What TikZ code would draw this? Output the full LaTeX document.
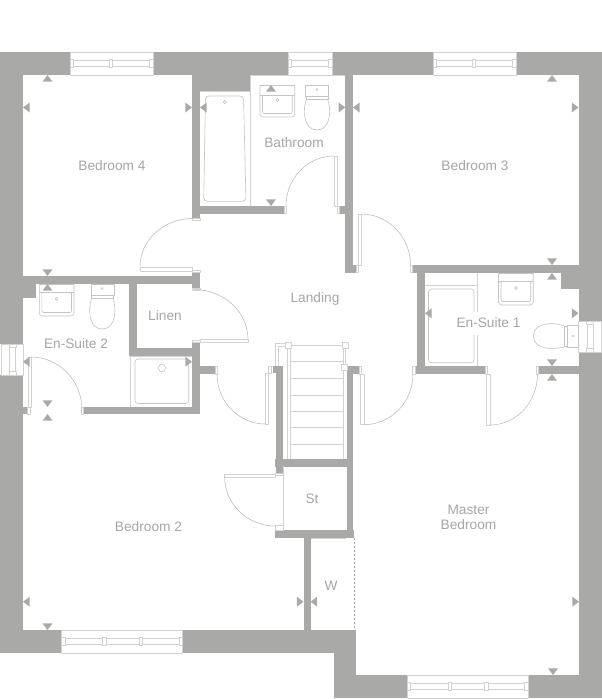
\documentclass[tikz,border=0pt]{standalone}
\usepackage{fontspec}
\setmainfont{Liberation Sans}
\definecolor{wallgray}{HTML}{A9A9A8}
\definecolor{framegray}{HTML}{D2D2D2}
\definecolor{fitgray}{HTML}{C4C4C4}
\definecolor{textgray}{HTML}{A6A6A6}
\begin{document}
\begin{tikzpicture}[x=1pt,y=-1pt,line join=round]
		\tikzset{wall/.style={fill=wallgray,draw=none},
			frame/.style={draw=framegray,fill=white,line width=.8pt},
			fitting/.style={draw=fitgray,line width=.6pt},
			swing/.style={draw=wallgray!85,line width=.5pt},
			room/.style={font=\fontsize{13.7}{15}\selectfont,text=textgray,align=center,inner sep=0pt}}
		\useasboundingbox (0,0) rectangle (602,699);
		\fill[white] (0,0) rectangle (602,699);
		% walls
		\foreach \xa/\ya/\xb/\yb in {0/52/70/75,153/52/288/75,332/52/433/75,516/52/602/75,
			0/52/23/344,0/375/23/653,578.5/52/602/321,578.5/352/602/698,
			0/630/61.5/653,182.7/630/356/653,334/630/356/698,334/675/407/698,528/675/602/698,
			192/75/250/91,192/75/200/218,200/206/284/213.7,
			345.3/75/353/272.7,339/206/345.3/213.7,345.3/265/356/272.7,
			412/265/578.5/273,417/265/425/374,415.3/366/485/374,538.5/366/578.5/374,561/273/578.5/289,
			23/276/200/284,192/272/200/288,23/284/36/298,
			129/284/136.5/355.7,129/348/200/355.7,192/342/200/414,
			200/366/215/374,83/407/200/414,23/407/27/414,
			273/366/283/373,275.7/366/283/473,275/459/353.3/466.7,346.7/366/353.3/538,346.7/366/359/374,
			275/530/354/538,303.5/538/310.5/630}
		\fill[wall] (\xa,\ya) rectangle (\xb,\yb);
		% jambs
		\foreach \xa/\ya/\xb/\yb in {192.5/218/200/220.5,192.5/270/200/272,192.5/288/200/290,192.5/340/200/342,
			284/206/286.5/213.7,337/206/339/213.7,356/265/358/272.7,410/265/412/272.7,
			359/366/361/374,412.7/366/415.3/374,485/366/487/374,536.5/366/538.5/374,
			215/366/217/374,81/407/83/414,27/407/30/414,268.5/366/271/373,
			275.5/473/283/475,275.5/525/283/530}
		\draw[frame,line width=.5pt] (\xa,\ya) rectangle (\xb,\yb);
		% windows along the long walls
		\foreach \xa/\xb/\ya in {70/153/52,288/332/52,433/516/52,61.5/182.7/630,407/528/675}{
			\draw[frame] (\xa,\ya+.4) rectangle (\xb,\ya+23);
			\draw[frame,line width=.5pt] (\xa,\ya+8.5) rectangle (\xb,\ya+14.5);
			\draw[frame,line width=.5pt] (\xa,\ya+7.5) rectangle (\xa+3.5,\ya+15);
			\draw[frame,line width=.5pt] (\xb-3.5,\ya+7.5) rectangle (\xb,\ya+15);
		}
		\foreach \x/\y in {109/52,433+39/52,102.5/630,139/630,448/675,484.5/675}
		\draw[frame,line width=.5pt] (\x,\y+7.5) rectangle (\x+3.5,\y+15);
		% windows in the side walls
		\foreach \xa/\xb/\ya/\yb in {1/23/344/375,578.5/601.5/321/352}{
			\draw[frame] (\xa,\ya) rectangle (\xb,\yb);
			\draw[frame,line width=.5pt] (\xa+8.5,\ya) rectangle (\xa+14.5,\yb);
			\draw[frame,line width=.5pt] (\xa+8,\ya) rectangle (\xa+15,\ya+3.5);
			\draw[frame,line width=.5pt] (\xa+8,\yb-3.5) rectangle (\xa+15,\yb);
		}
		% door leaves and swings
		\foreach \xa/\ya/\xb/\yb in {140/267/192.5/271,334/156/337/206,358/214/361/265,
			200/339.3/248/342,28/357/31.5/407,265/373/268.5/424,
			360.7/374/364/424.7,486.7/374/490/425,224.7/474/275.5/477}
		\draw[frame,line width=.5pt] (\xa,\ya) rectangle (\xb,\yb);
		\draw[swing] (192.5,218.5) arc[start angle=-90,end angle=-180,x radius=52.5,y radius=48.5];
		\draw[swing] (286,206) arc[start angle=180,end angle=270,x radius=48,y radius=50];
		\draw[swing] (361,214) arc[start angle=-90,end angle=0,x radius=49.5,y radius=51];
		\draw[swing] (194,289.5) arc[start angle=-90,end angle=0,x radius=54,y radius=50];
		\draw[swing] (31,357) arc[start angle=-90,end angle=0,x radius=51,y radius=53];
		\draw[swing] (217,374) arc[start angle=180,end angle=90,x radius=48.5,y radius=50];
		\draw[swing] (364,424.7) arc[start angle=90,end angle=0,x radius=49,y radius=50.7];
		\draw[swing] (490,425) arc[start angle=90,end angle=0,x radius=47.5,y radius=51];
		\draw[swing] (224.7,477) arc[start angle=180,end angle=90,x radius=50.5,y radius=49];
		% room outlines
		\draw[frame,fill=none] (200,91.5)--(250,91.5);
		\draw[frame,fill=none] (250,75.5)--(250,206);
		\draw[frame,fill=none] (250,75.5)--(345,75.5);
		\draw[frame,fill=none] (130.5,355.7)--(130.5,407);
		\draw[frame,fill=none] (130.5,356)--(192,356);
		\draw[frame,fill=none] (425,285.5)--(477.7,285.5);
		\draw[frame,fill=none] (477.7,273)--(477.7,366);
		\draw[frame,fill=none] (283,466)--(283,530);
		\draw[frame,fill=none] (310.5,538.3)--(346,538.3);
		\draw[wallgray,line width=.5pt,dashed,dash pattern=on 2pt off 2pt] (354,538)--(354,630);
		% bath, showers
		\draw[fitting,rounded corners=3.5] (205.5,96)--(243.5,96)--(246,201.3)--(203.7,201.3)--cycle;
		\draw[fitting] (224.7,102) circle (1.6);
		\draw[fitting,rounded corners=3] (135,359) rectangle (188.7,403.5);
		\draw[fitting] (162,368) circle (3.7);
		\draw[fitting,rounded corners=3] (428.5,289) rectangle (474,362.7);
		% basins
		\foreach \xa/\ya/\yd/\tapy in {260/85/95/100,39.3/284/292/298.7,498.5/273/281.7/288}{
			\draw[fitting,rounded corners=3] (\xa,\ya-.3)--(\xa,\ya+32)--(\xa+34.7,\ya+32)--(\xa+34.7,\ya-.3);
			\draw[fitting] (\xa,\ya)--(\xa+34.7,\ya);
			\draw[fitting] (\xa,\yd)--(\xa+34.7,\yd);
			\draw[fitting,rounded corners=2] (\xa+2.5,\yd)--(\xa+2.5,\ya+28.5)--(\xa+32.2,\ya+28.5)--(\xa+32.2,\yd);
			\draw[fitting] (\xa+17.3,\tapy) circle (1.6);
		}
		% toilets
		\foreach \x/\y in {317/85,102.3/284}{
			\draw[fitting,fill=white] (\x-11.5,\y) rectangle (\x+11.5,\y+11);
			\draw[fitting] (\x-11,\y+11)--(\x-11,\y+14)--(\x+11,\y+14)--(\x+11,\y+11);
			\draw[fitting] (\x-10.5,\y+14) .. controls (\x-14.5,\y+24) and (\x-14,\y+45) .. (\x,\y+45)
				.. controls (\x+14,\y+45) and (\x+14.5,\y+24) .. (\x+10.5,\y+14);
			\draw[fitting] (\x,\y+4.5) circle (1);
		}
		\draw[fitting,fill=white] (567.3,325) rectangle (578,347.7);
		\draw[fitting] (567,326)--(564,326)--(564,346.5)--(567,346.5);
		\draw[fitting] (564,325.5) .. controls (552,322) and (533.5,322.5) .. (533.5,336)
			.. controls (533.5,349.5) and (552,350) .. (564,347);
		\draw[fitting] (573,336) circle (1);
		% stairs
		\foreach \y in {361.7,378.3,395,411.7,427.7,444}
		\draw[frame,fill=none] (290.7,\y)--(343.3,\y);
		\draw[frame,fill=none] (287.3,347)--(287.3,459);
		\draw[frame,fill=none] (290.7,347)--(290.7,459);
		\draw[frame,fill=none] (343.3,370)--(343.3,459);
		\draw[frame,fill=none] (345.5,348)--(345.5,365);
		\draw[frame,fill=none] (343,348)--(343,365);
		\draw[frame,fill=none] (292,345)--(342,345);
		\draw[frame,fill=none] (275.5,366)--(275.5,343.5)--(286,343.5);
		\draw[frame,fill=none] (278,366)--(278,346.5)--(286,346.5);
		\foreach \x/\y in {288.7/345.6,345/345.6,344.5/367.7}
		\draw[frame,line width=.8pt] (\x-3,\y-3) rectangle (\x+3,\y+3);
		% ceiling marks
		\foreach \x/\y in {47.5/75,271/85,552/75,552/273,552/374,47.5/284,47.5/414}
		\fill[wall] (\x,\y)--(\x-5,\y+6.7)--(\x+5,\y+6.7)--cycle;
		\foreach \x/\y in {47.5/276,271/206,552/265,552/366,47.5/407,47.5/630,553/675}
		\fill[wall] (\x,\y)--(\x-5,\y-6.7)--(\x+5,\y-6.7)--cycle;
		\foreach \x/\y in {23/107.5,200/107.5,353/107.5,425/313.3,23/361.7,23/601.7,310.5/601.7}
		\fill[wall] (\x,\y)--(\x+6.7,\y-5)--(\x+6.7,\y+5)--cycle;
		\foreach \x/\y in {192/107.5,345.3/107.5,578.5/107.5,578.5/313.3,192/361.7,303.5/601.7,579/601.7}
		\fill[wall] (\x,\y)--(\x-6.7,\y-5)--(\x-6.7,\y+5)--cycle;
		% room names
		\node[room] (bedfour) at (112,165.5) {Bedroom 4};
		\node[room] (bathroom) at (294,142.5) {Bathroom};
		\node[room] (bedthree) at (475,165.5) {Bedroom 3};
		\node[room] (landing) at (315,298.5) {Landing};
		\node[room] (linen) at (165,315.5) {Linen};
		\node[room] (suitetwo) at (76,344) {En-Suite 2};
		\node[room,fill=white,minimum height=23pt,inner xsep=2pt] (suiteone) at (488.5,323) {En-Suite 1};
		\node[room] (cupboard) at (312,499) {St};
		\node[room] (bedtwo) at (148.5,526.5) {Bedroom 2};
		\node[room] (master) at (468.5,517) {Master\\Bedroom};
		\node[room] (wardrobe) at (331,585.5) {W};
\end{tikzpicture}
\end{document}
